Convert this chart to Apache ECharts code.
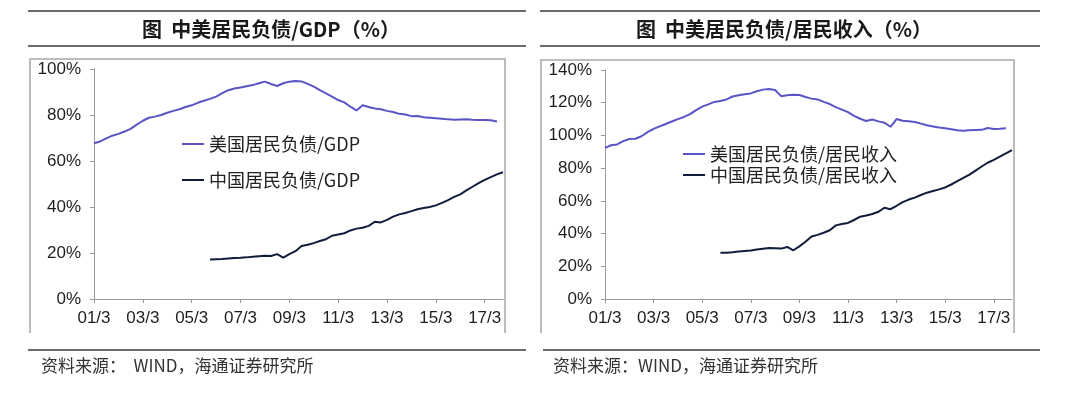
<!DOCTYPE html>
<html>
<head>
<meta charset="utf-8">
<script src="https://cdn.jsdelivr.net/npm/echarts@6/dist/echarts.min.js"></script>
<style>
html,body{margin:0;padding:0;background:#fff;}
#c{width:1080px;height:405px;}
</style>
</head>
<body>
<div id="c"></div>
<script>
// Quarterly categories 2001Q1 .. 2017Q4
const quarters = [
 '01/3','01/6','01/9','01/12','02/3','02/6','02/9','02/12','03/3','03/6','03/9','03/12',
 '04/3','04/6','04/9','04/12','05/3','05/6','05/9','05/12','06/3','06/6','06/9','06/12',
 '07/3','07/6','07/9','07/12','08/3','08/6','08/9','08/12','09/3','09/6','09/9','09/12',
 '10/3','10/6','10/9','10/12','11/3','11/6','11/9','11/12','12/3','12/6','12/9','12/12',
 '13/3','13/6','13/9','13/12','14/3','14/6','14/9','14/12','15/3','15/6','15/9','15/12',
 '16/3','16/6','16/9','16/12','17/3','17/6','17/9','17/12'
];

// Left chart: household debt / GDP (%)
const usDebtGdp = [
 67.7,68.5,69.8,71.0,71.8,72.8,74.0,75.8,77.5,78.8,79.3,80.0,
 81.0,81.8,82.5,83.5,84.2,85.3,86.2,87.0,88.0,89.5,90.8,91.5,
 92.0,92.5,93.0,93.8,94.5,93.5,92.6,93.8,94.5,94.8,94.6,93.5,
 92.3,90.8,89.4,88.0,86.5,85.5,83.6,82.0,84.2,83.5,82.8,82.5,
 81.8,81.3,80.5,80.2,79.5,79.6,79.0,78.8,78.6,78.4,78.1,77.9,
 78.0,78.1,77.9,77.8,77.8,77.7,77.2,null
];
const cnDebtGdp = [
 null,null,null,null,null,null,null,null,null,null,null,null,
 null,null,null,null,null,null,null,17.2,17.3,17.4,17.6,17.8,
 17.9,18.1,18.4,18.6,18.8,18.7,19.5,18.0,19.5,20.8,23.0,23.6,
 24.3,25.2,26.0,27.5,28.0,28.6,29.8,30.6,31.0,31.8,33.6,33.3,
 34.4,35.8,36.8,37.4,38.2,39.0,39.6,40.0,40.7,41.8,43.0,44.4,
 45.5,47.2,48.8,50.4,51.8,53.0,54.2,55.1
];

// Right chart: household debt / household income (%)
const usDebtIncome = [
 92.4,94.0,94.5,96.5,97.8,98.0,99.5,102.0,104.0,105.5,107.0,108.5,
 110.0,111.3,113.0,115.5,117.6,119.0,120.5,121.0,122.0,123.8,124.5,125.2,
 125.7,127.0,128.0,128.4,127.8,124.0,124.5,124.8,124.7,123.5,122.5,122.0,
 120.5,119.2,117.3,115.8,114.2,112.0,110.2,108.8,109.7,108.6,107.8,105.3,
 110.0,109.0,108.6,108.2,107.2,106.2,105.5,104.8,104.4,103.8,103.2,102.9,
 103.1,103.3,103.4,104.5,104.0,104.1,104.4,null
];
const cnDebtIncome = [
 null,null,null,null,null,null,null,null,null,null,null,null,
 null,null,null,null,null,null,null,28.2,28.3,28.6,29.0,29.3,
 29.6,30.2,30.7,31.2,31.0,30.8,31.8,29.8,32.2,35.0,38.2,39.2,
 40.5,42.0,45.0,45.8,46.5,48.3,50.3,51.0,52.0,53.3,55.8,54.9,
 57.0,59.2,60.8,62.0,63.6,65.0,66.0,67.0,68.2,70.0,72.0,74.0,
 76.0,78.5,81.0,83.3,85.0,87.0,89.0,91.0
];

const leftNames = ['美国居民负债/GDP', '中国居民负债/GDP'];
const rightNames = ['美国居民负债/居民收入', '中国居民负债/居民收入'];
const titles = ['图  中美居民负债/GDP（%）', '图  中美居民负债/居民收入（%）'];
const sources = ['资料来源：  WIND，海通证券研究所', '资料来源：WIND，海通证券研究所'];

const US_COLOR = '#5a54c6';
const CN_COLOR = '#101c3c';
const AX = '#9a9a9a';
const LAB = '#1e1e1e';
const NUM_FONT = '"Liberation Sans", Arial, sans-serif';
const CJK_FONT = '"Noto Sans CJK SC", sans-serif';

function xAxisCfg(gridIndex) {
  return {
    type: 'category', gridIndex, data: quarters, boundaryGap: false,
    axisLine: { lineStyle: { color: AX, width: 1 } },
    axisTick: { show: true, length: 4, inside: false, interval: (i) => i % 8 === 0, lineStyle: { color: AX } },
    axisLabel: { interval: (i) => i % 8 === 0, color: LAB, fontSize: 17, fontFamily: NUM_FONT, margin: 11 },
    splitLine: { show: false }
  };
}
function yAxisCfg(gridIndex, max) {
  return {
    type: 'value', gridIndex, min: 0, max, interval: 20,
    axisLine: { show: true, lineStyle: { color: AX, width: 1 } },
    axisTick: { show: true, length: 4, lineStyle: { color: AX } },
    axisLabel: { formatter: '{value}%', color: LAB, fontSize: 17, fontFamily: NUM_FONT, margin: 13 },
    splitLine: { show: false }
  };
}
function lineSeries(name, data, color, idx) {
  return {
    name, type: 'line', data, xAxisIndex: idx, yAxisIndex: idx,
    showSymbol: false, symbol: 'none', smooth: false, connectNulls: false,
    lineStyle: { color, width: 2 }, itemStyle: { color }, silent: true, animation: false
  };
}
function hline(x1, x2, y, color, w) {
  return { type: 'line', shape: { x1, y1: y, x2, y2: y }, style: { stroke: color, lineWidth: w }, silent: true };
}
function frame(x1, x2, yTop, yBot) {
  return { type: 'polyline', shape: { points: [[x1, yBot], [x1, yTop], [x2, yTop], [x2, yBot]] },
           style: { stroke: '#a8a8a8', lineWidth: 1.5, fill: null }, silent: true };
}
function txt(text, x, y, size, weight, align, color) {
  return { type: 'text', x, y, silent: true,
    style: { text, fontSize: size, fontWeight: weight, fontFamily: CJK_FONT, fill: color,
             align, verticalAlign: 'middle' } };
}

const chart = echarts.init(document.getElementById('c'), null, { renderer: 'canvas' });
chart.setOption({
  animation: false,
  backgroundColor: '#ffffff',
  grid: [
    { left: 94, top: 69, width: 409, height: 230, containLabel: false },
    { left: 605, top: 70, width: 407, height: 229, containLabel: false }
  ],
  xAxis: [xAxisCfg(0), xAxisCfg(1)],
  yAxis: [yAxisCfg(0, 100), yAxisCfg(1, 140)],
  legend: [
    { data: leftNames, orient: 'vertical', left: 177, top: 130, itemGap: 18, itemWidth: 22, itemHeight: 2,
      icon: 'rect', textStyle: { fontSize: 18, fontFamily: CJK_FONT, color: '#222' }, selectedMode: false },
    { data: rightNames, orient: 'vertical', left: 678, top: 140, itemGap: 3, itemWidth: 22, itemHeight: 2,
      icon: 'rect', textStyle: { fontSize: 18, fontFamily: CJK_FONT, color: '#222' }, selectedMode: false }
  ],
  series: [
    lineSeries(leftNames[0], usDebtGdp, US_COLOR, 0),
    lineSeries(leftNames[1], cnDebtGdp, CN_COLOR, 0),
    lineSeries(rightNames[0], usDebtIncome, US_COLOR, 1),
    lineSeries(rightNames[1], cnDebtIncome, CN_COLOR, 1)
  ],
  graphic: [
    hline(28, 526, 11, '#3a3a3a', 1.5),
    hline(28, 526, 46, '#3a3a3a', 1.5),
    hline(540, 1040, 11, '#3a3a3a', 1.5),
    hline(540, 1040, 46, '#3a3a3a', 1.5),
    txt(titles[0], 271, 29, 20, 'bold', 'center', '#1a1a1a'),
    txt(titles[1], 784, 29, 20, 'bold', 'center', '#1a1a1a'),
    frame(30, 505, 59, 333),
    frame(541, 1014, 60, 333),
    hline(28, 526, 350, '#3a3a3a', 1.5),
    hline(543, 1040, 350, '#3a3a3a', 1.5),
    txt(sources[0], 41, 366, 17, 'normal', 'left', '#333'),
    txt(sources[1], 553, 366, 17, 'normal', 'left', '#333')
  ]
});
</script>
</body>
</html>
